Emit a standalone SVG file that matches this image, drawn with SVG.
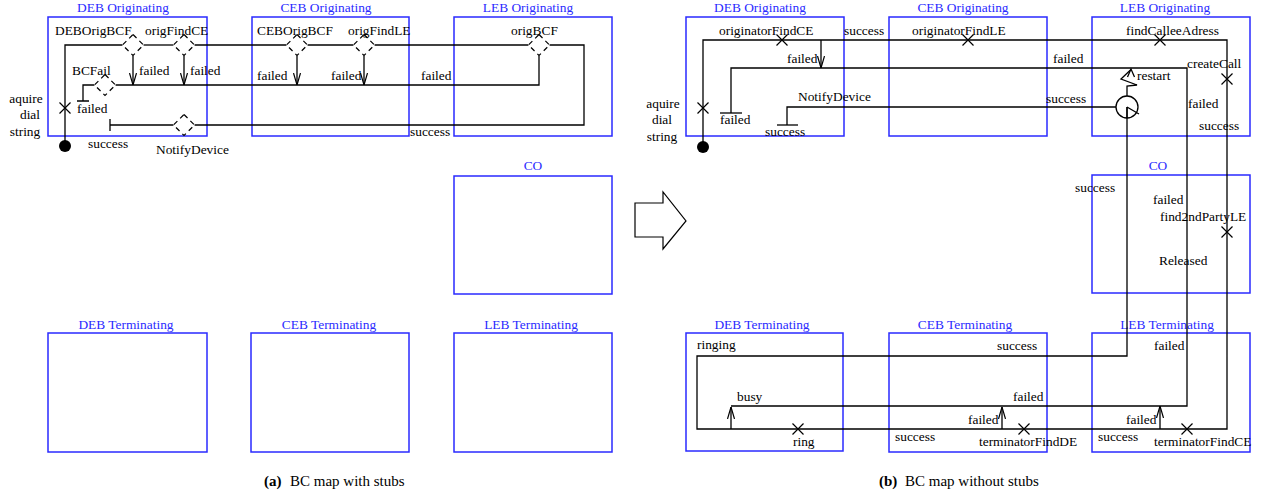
<svg xmlns="http://www.w3.org/2000/svg" width="1261" height="494" viewBox="0 0 1261 494">
<style>
.box{fill:none;stroke:#2a2aff;stroke-width:1.5}
.bl{font-family:"Liberation Serif","Times New Roman",serif;font-size:13.4px;fill:#2a2aff;text-anchor:middle}
.t{font-family:"Liberation Serif","Times New Roman",serif;font-size:13.4px;fill:#000}
.c{font-family:"Liberation Serif","Times New Roman",serif;font-size:15px;fill:#000}
.ln{fill:none;stroke:#000;stroke-width:1.3}
.ar{fill:none;stroke:#000;stroke-width:1.3;marker-end:url(#v)}
.stub{fill:#fff;stroke:#000;stroke-width:1.2;stroke-dasharray:5,4}
.x{fill:none;stroke:#000;stroke-width:1.2}
</style>
<defs>
<marker id="v" viewBox="0 0 12 8" refX="12" refY="4" markerWidth="12" markerHeight="8" markerUnits="userSpaceOnUse" orient="auto">
<path d="M0,0.5 L12,4 L0,7.5" fill="none" stroke="#000" stroke-width="1.2"/>
</marker>
<path id="cross" d="M-5.5,-5.5 L5.5,5.5 M-5.5,5.5 L5.5,-5.5"/>
<polygon id="dia" points="0,-10.5 10.5,0 0,10.5 -10.5,0"/>
</defs>
<rect width="1261" height="494" fill="#fff"/>

<!-- LEFT PANEL components -->
<g id="a-deb-orig"><rect class="box" x="48" y="17" width="159" height="119"/><text class="bl" x="123" y="12">DEB Originating</text></g>
<g id="a-ceb-orig"><rect class="box" x="252" y="17" width="157" height="119"/><text class="bl" x="326" y="12">CEB Originating</text></g>
<g id="a-leb-orig"><rect class="box" x="454" y="17" width="158" height="119"/><text class="bl" x="528" y="12">LEB Originating</text></g>
<g id="a-co"><rect class="box" x="454" y="176" width="158" height="118"/><text class="bl" x="533" y="170">CO</text></g>
<g id="a-deb-term"><rect class="box" x="48" y="333" width="159" height="119"/><text class="bl" x="126" y="329">DEB Terminating</text></g>
<g id="a-ceb-term"><rect class="box" x="251" y="333" width="158" height="119"/><text class="bl" x="329" y="329">CEB Terminating</text></g>
<g id="a-leb-term"><rect class="box" x="454" y="333" width="158" height="119"/><text class="bl" x="531" y="329">LEB Terminating</text></g>

<!-- LEFT connectors -->
<g id="a-connectors">
<path class="ln" d="M65,146 V45 H122.5"/>
<path class="ln" d="M143.5,45 H173.5"/>
<path class="ln" d="M194.5,45 H286.5"/>
<path class="ln" d="M307.5,45 H353.5"/>
<path class="ln" d="M374.5,45 H528.5"/>
<path class="ln" d="M549.5,45 H584 V125 H194.5"/>
<path class="ln" d="M173.5,125 H110 M110,119 V131"/>
<path class="ar" d="M133,55.5 V85"/>
<path class="ar" d="M184,55.5 V85"/>
<path class="ar" d="M297,55.5 V85"/>
<path class="ar" d="M364,55.5 V85"/>
<path class="ln" d="M539,55.5 V85 H115.5"/>
<path class="ln" d="M94.5,85 H83 V101 M77,101 H89"/>
</g>

<g id="a-start"><circle cx="65" cy="146" r="6" fill="#000"/>
<text class="t" x="26" y="103" text-anchor="middle">aquire</text><text class="t" x="30" y="119" text-anchor="middle">dial</text><text class="t" x="25" y="136" text-anchor="middle">string</text></g>
<g id="a-aquire"><use href="#cross" class="x" x="65" y="108"/></g>
<g id="a-DEBOrigBCF"><use href="#dia" class="stub" x="133" y="45"/><text class="t" x="55" y="35">DEBOrigBCF</text></g>
<g id="a-origFindCE"><use href="#dia" class="stub" x="184" y="45"/><text class="t" x="145" y="35">origFindCE</text></g>
<g id="a-CEBOrigBCF"><use href="#dia" class="stub" x="297" y="45"/><text class="t" x="257" y="35">CEBOrigBCF</text></g>
<g id="a-origFindLE"><use href="#dia" class="stub" x="364" y="45"/><text class="t" x="348" y="35">origFindLE</text></g>
<g id="a-origBCF"><use href="#dia" class="stub" x="539" y="45"/><text class="t" x="511" y="35">origBCF</text></g>
<g id="a-BCFail"><use href="#dia" class="stub" x="105" y="85"/><text class="t" x="72" y="75">BCFail</text></g>
<g id="a-NotifyDevice"><use href="#dia" class="stub" x="184" y="125"/><text class="t" x="156" y="154">NotifyDevice</text></g>
<g id="a-labels">
<text class="t" x="139" y="75">failed</text>
<text class="t" x="190" y="75">failed</text>
<text class="t" x="257" y="80">failed</text>
<text class="t" x="331" y="80">failed</text>
<text class="t" x="421" y="80">failed</text>
<text class="t" x="77" y="113">failed</text>
<text class="t" x="410" y="136">success</text>
<text class="t" x="88" y="148">success</text>
</g>

<!-- transform arrow -->
<g id="transform"><polygon points="635,203 663,203 663,192 686,221 663,249 663,237 635,237" fill="#fff" stroke="#000" stroke-width="1.2"/></g>

<!-- RIGHT PANEL components -->
<g id="b-deb-orig"><rect class="box" x="686" y="17" width="158" height="119"/><text class="bl" x="760" y="12">DEB Originating</text></g>
<g id="b-ceb-orig"><rect class="box" x="889" y="17" width="158" height="119"/><text class="bl" x="963" y="12">CEB Originating</text></g>
<g id="b-leb-orig"><rect class="box" x="1092" y="17" width="158" height="119"/><text class="bl" x="1165" y="12">LEB Originating</text></g>
<g id="b-co"><rect class="box" x="1092" y="175" width="158" height="118"/><text class="bl" x="1158" y="170">CO</text></g>
<g id="b-deb-term"><rect class="box" x="686" y="333" width="157" height="118"/><text class="bl" x="762" y="329">DEB Terminating</text></g>
<g id="b-ceb-term"><rect class="box" x="889" y="333" width="158" height="119"/><text class="bl" x="965" y="329">CEB Terminating</text></g>
<g id="b-leb-term"><rect class="box" x="1092" y="333" width="158" height="119"/><text class="bl" x="1167" y="329">LEB Terminating</text></g>

<!-- RIGHT connectors -->
<g id="b-connectors">
<path class="ln" d="M703,147 V40 H1227 V429 H697 V356 H1127 V107"/>
<path class="ar" d="M821,40 V68"/>
<path class="ln" d="M731,113 V68 H1187 V406 H731"/>
<path class="ln" d="M720,113 H742"/>
<path class="ar" d="M731,429 V407"/>
<path class="ar" d="M1002,429 V407"/>
<path class="ar" d="M1160,429 V406"/>
<path class="ln" d="M787,125 V107 H1116"/>
<path class="ln" d="M777,125 H798"/>
<path class="ln" d="M1127,96 V86 L1137,85 L1121,79 L1131,69.5"/>
<path class="ln" d="M1127.5,77 L1131,69 L1134.5,77"/>
</g>

<g id="b-start"><circle cx="703" cy="147" r="6" fill="#000"/>
<text class="t" x="663" y="108" text-anchor="middle">aquire</text><text class="t" x="662" y="124" text-anchor="middle">dial</text><text class="t" x="662" y="141" text-anchor="middle">string</text></g>
<g id="b-aquire"><use href="#cross" class="x" x="703" y="108"/></g>
<g id="b-originatorFindCE"><use href="#cross" class="x" x="782" y="40"/><text class="t" x="719" y="35">originatorFindCE</text></g>
<g id="b-originatorFindLE"><use href="#cross" class="x" x="968" y="40"/><text class="t" x="912" y="35">originatorFindLE</text></g>
<g id="b-findCalleeAdress"><use href="#cross" class="x" x="1160" y="40"/><text class="t" x="1126" y="35">findCalleeAdress</text></g>
<g id="b-createCall"><use href="#cross" class="x" x="1227" y="79"/><text class="t" x="1187" y="68">createCall</text></g>
<g id="b-find2ndPartyLE"><use href="#cross" class="x" x="1227" y="232"/><text class="t" x="1160" y="221">find2ndPartyLE</text></g>
<g id="b-terminatorFindCE"><use href="#cross" class="x" x="1187" y="429"/><text class="t" x="1154" y="446">terminatorFindCE</text></g>
<g id="b-terminatorFindDE"><use href="#cross" class="x" x="1024" y="429"/><text class="t" x="979" y="446">terminatorFindDE</text></g>
<g id="b-ring"><use href="#cross" class="x" x="798" y="429"/><text class="t" x="793" y="446">ring</text></g>
<g id="b-timer"><circle cx="1127" cy="107" r="11" fill="none" stroke="#000" stroke-width="1.3"/><path class="ln" d="M1127,107 L1139,114 M1127,107 V118"/><text class="t" x="1137" y="80">restart</text></g>
<g id="b-NotifyDevice"><text class="t" x="798" y="101">NotifyDevice</text></g>
<g id="b-labels">
<text class="t" x="844" y="35">success</text>
<text class="t" x="787" y="63">failed</text>
<text class="t" x="1053" y="63">failed</text>
<text class="t" x="1046" y="103">success</text>
<text class="t" x="1188" y="108">failed</text>
<text class="t" x="720" y="124">failed</text>
<text class="t" x="1199" y="130">success</text>
<text class="t" x="765" y="136">success</text>
<text class="t" x="1075" y="192">success</text>
<text class="t" x="1153" y="204">failed</text>
<text class="t" x="1159" y="265">Released</text>
<text class="t" x="697" y="349">ringing</text>
<text class="t" x="997" y="350">success</text>
<text class="t" x="1154" y="350">failed</text>
<text class="t" x="737" y="401">busy</text>
<text class="t" x="1013" y="401">failed</text>
<text class="t" x="968" y="424">failed</text>
<text class="t" x="1126" y="424">failed</text>
<text class="t" x="895" y="441">success</text>
<text class="t" x="1098" y="441">success</text>
</g>

<g id="captions">
<text class="c" x="264" y="486"><tspan font-weight="bold">(a)</tspan><tspan x="290">BC map with stubs</tspan></text>
<text class="c" x="879" y="486"><tspan font-weight="bold">(b)</tspan><tspan x="905">BC map without stubs</tspan></text>
</g>
</svg>
